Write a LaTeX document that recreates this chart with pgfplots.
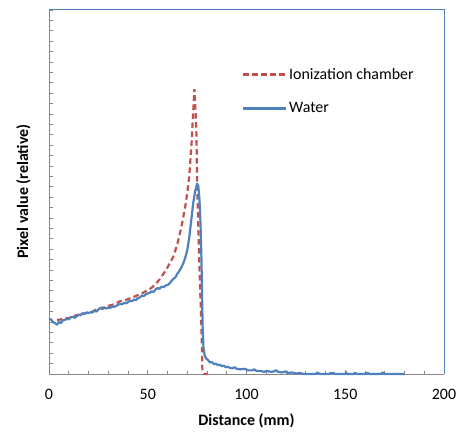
\documentclass[border=0pt]{standalone}
\usepackage{fontspec}
\setmainfont{Carlito}
\usepackage{pgfplots}
\pgfplotsset{compat=1.18}
\definecolor{xlred}{HTML}{C0504D}
\definecolor{xlblue}{HTML}{4F81BD}
\definecolor{axgray}{HTML}{868686}

\begin{document}
\begin{tikzpicture}
\begin{axis}[
  scale only axis, width=395bp, height=365bp,
  xmin=0, xmax=200, ymin=0, ymax=7.02,
  axis lines=left, axis line style={-, axgray, line width=0.9bp},
  xtick={0,50,...,200}, minor x tick num=4,
  ytick={0,...,7}, minor y tick num=4, yticklabels={},
  tick align=inside, tick style={axgray, line width=0.8bp},
  major tick length=4bp, minor tick length=3.5bp,
  /pgf/number format/assume math mode=true,
  ticklabel style={font=\fontsize{16}{18}\selectfont},
  xticklabel style={yshift=-12bp},
  xlabel={\textbf{Distance (mm)}},
  ylabel={\textbf{Pixel value (relative)}},
  label style={font=\fontsize{16}{18}\selectfont},
  xlabel style={at={(axis description cs:0.5,0)}, anchor=north, yshift=-36bp},
  ylabel style={at={(axis description cs:0,0.5)}, anchor=south, yshift=15bp},
  clip=false,
  legend cell align=left,
  legend style={at={(axis description cs:0.488,0.844)}, anchor=north west,
    draw=none, fill=none, font=\fontsize{16}{18}\selectfont,
    row sep=18bp, inner sep=0pt},
  legend image code/.code={\draw[#1] (0bp,0bp) -- (43bp,0bp);},
]
\addplot[xlred, line width=2.2bp, dash pattern=on 5.5bp off 3.5bp] coordinates {
(4,1.04) (6,1.05) (8,1.08) (10,1.07) (12,1.11) (14,1.13) (16,1.15) (18,1.16)
(20,1.19) (22,1.20) (24,1.24) (26,1.27) (28,1.28) (30,1.31) (32,1.33) (34,1.36)
(36,1.40) (38,1.41) (40,1.44) (42,1.47) (44,1.50) (46,1.54) (48,1.57) (50,1.61)
(52,1.66) (54,1.73) (56,1.82) (58,1.93) (60,2.05) (62,2.19) (63,2.26) (64,2.38)
(65,2.50) (66,2.66) (67,2.82) (68,3.02) (69,3.22) (70,3.48) (71,3.80) (71.6,4.12)
(72.2,4.45) (72.6,4.75) (73.1,5.10) (73.6,5.48) (74.2,5.05) (74.6,4.70) (75.1,3.48)
(75.6,2.80) (76.1,2.19) (76.6,1.55) (77.2,0.90) (77.7,0.03) (78.5,0) (80.2,0)
};
\addlegendentry{Ionization chamber}
\addplot[xlblue, line width=2.2bp, line join=round] coordinates {
(0,1.06) (1,1.05) (2,1.00) (3,0.98) (4,0.95) (5,1.00) (6,0.98) (7,1.03) (8,1.04)
(9,1.06) (10,1.05) (11,1.09) (12,1.10) (13,1.08) (14,1.11) (15,1.14) (16,1.13)
(17,1.17) (18,1.16) (19,1.18) (20,1.17) (21,1.19) (22,1.18) (23,1.22) (24,1.20)
(25,1.24) (26,1.27) (27,1.25) (28,1.27) (29,1.26) (30,1.28) (31,1.27) (32,1.30)
(33,1.29) (34,1.31) (35,1.33) (36,1.35) (37,1.34) (38,1.37) (39,1.36) (40,1.38)
(41,1.41) (42,1.40) (43,1.43) (44,1.42) (45,1.46) (46,1.47) (47,1.51) (48,1.50)
(49,1.53) (50,1.55) (51,1.56) (52,1.59) (53,1.58) (54,1.63) (55,1.65) (56,1.64)
(57,1.68) (58,1.67) (59,1.70) (60,1.71) (61,1.74) (62,1.79) (63,1.83) (64,1.86)
(65,1.93) (66,1.98) (67,2.05) (68,2.13) (69,2.24) (70,2.38) (71,2.62) (72,2.95)
(73,3.28) (74,3.52) (75,3.66) (75.6,3.62) (76.2,3.35) (76.7,2.90) (77.2,2.20)
(77.5,1.50) (77.8,0.90) (78.2,0.52) (78.8,0.36) (79.5,0.30) (80.5,0.27) (81.5,0.22)
(82.5,0.23) (83.5,0.19) (84.5,0.20) (85.5,0.17) (86.5,0.18) (87.5,0.15) (88.5,0.16)
(89.5,0.13) (90.5,0.14) (91.5,0.12) (93,0.11) (94,0.13) (95,0.10) (97,0.09)
(99,0.10) (101,0.07) (103,0.07) (104,0.09) (105,0.06) (107,0.06) (109,0.04)
(110,0.06) (111,0.05) (113,0.04) (115,0.07) (116,0.04) (118,0.03) (120,0.05)
(121,0.02) (123,0.03) (125,0.01) (127,0.02) (129,0) (135,0) (136,0.03) (137,0)
(142,0) (142.5,0.02) (144,0.02) (145,0) (150,0) (150.5,0.03) (151,0) (154,0)
(155,0.02) (156,0) (160,0) (160.5,0.02) (161.5,0.02) (162,0) (168,0) (169,0.03)
(170,0) (180,0)
};
\addlegendentry{Water}
\end{axis}
\draw[xlblue, line width=0.9bp] (current axis.north west) -- (current axis.north east) -- (current axis.south east);
\path ([shift={(-49bp,-58bp)}]current axis.south west) rectangle ([shift={(16bp,9bp)}]current axis.north east);
\end{tikzpicture}
\end{document}
